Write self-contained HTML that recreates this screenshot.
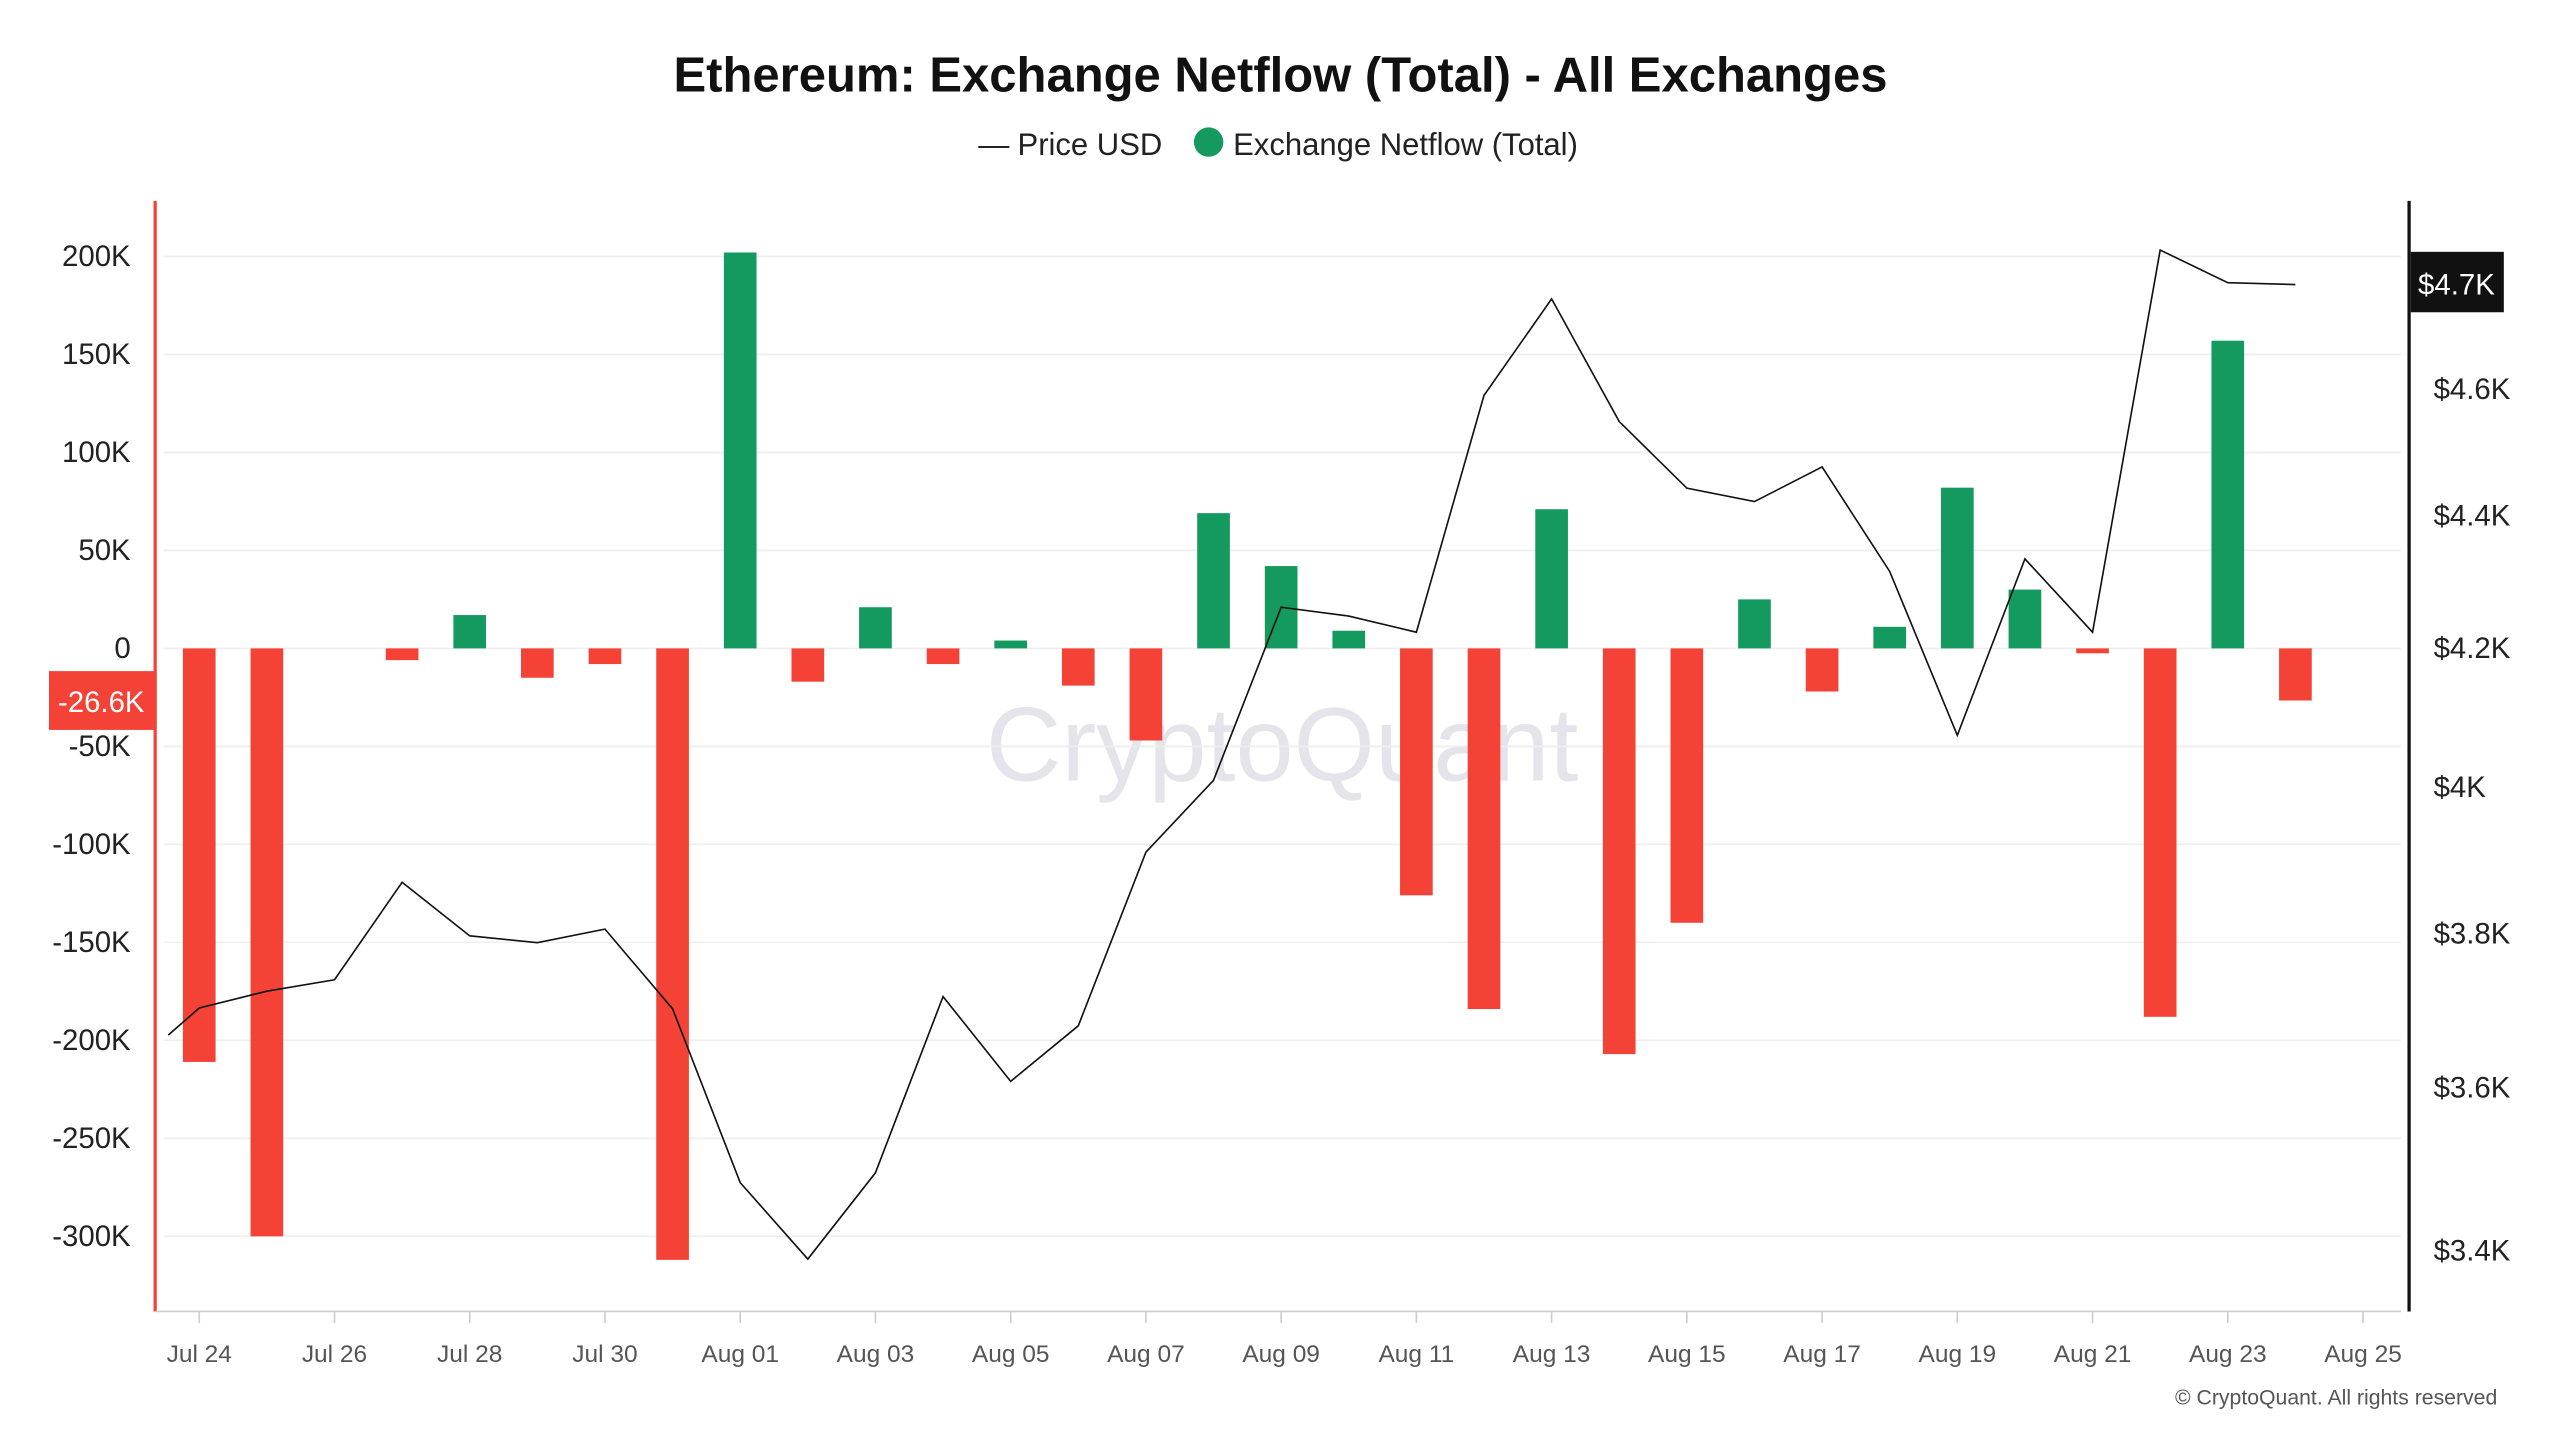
<!DOCTYPE html>
<html><head><meta charset="utf-8">
<style>
html,body{margin:0;padding:0;background:#fff;}
svg{display:block;font-family:"Liberation Sans",sans-serif;}
</style></head>
<body>
<svg id="chart" width="2560" height="1440" viewBox="0 0 1567.4 881.7" preserveAspectRatio="none" xmlns="http://www.w3.org/2000/svg">
<rect width="1600" height="900" fill="#fff"/>
<text x="784" y="56" text-anchor="middle" font-size="30" font-weight="bold" fill="#111">Ethereum: Exchange Netflow (Total) - All Exchanges</text>
<g>
<g><line x1="599" y1="90" x2="618" y2="90" stroke="#222" stroke-width="1.2"/><text x="623" y="95" font-size="19" fill="#222">Price USD</text></g>
<g><circle cx="740" cy="87" r="9" fill="#14995e"/><text x="755" y="95" font-size="19" fill="#222">Exchange Netflow (Total)</text></g>
</g>
<text x="785" y="478" text-anchor="middle" font-size="64" fill="#e4e4ea">CryptoQuant</text>
<g id="grid"></g>
<g id="bars"></g>
<g id="line"></g>
<g id="axes"></g>
<text x="1529" y="860" text-anchor="end" font-size="13" fill="#555">© CryptoQuant. All rights reserved</text>
</svg>
<script>
const dayLabels = ["Jul 24","Jul 26","Jul 28","Jul 30","Aug 01","Aug 03","Aug 05","Aug 07","Aug 09","Aug 11","Aug 13","Aug 15","Aug 17","Aug 19","Aug 21","Aug 23","Aug 25"];
const netflowK = [-211,-300,0,-6,17,-15,-8,-312,202,-17,21,-8,4,-19,-47,69,42,9,-126,-184,71,-207,-140,25,-22,11,82,30,-2.5,-188,157,-26.6];
const priceDays = [-0.46,0,1,2,3,4,5,6,7,8,9,10,11,12,13,14,15,16,17,18,19,20,21,22,23,24,25,26,27,28,29,30,31];
const priceUSD = [3667,3702,3724,3739,3869,3797,3788,3806,3701,3482,3390,3494,3717,3608,3679,3910,4010,4261,4248,4224,4590,4748,4548,4443,4422,4476,4315,4074,4334,4224,4830,4775,4772];
const leftTicks = [200,150,100,50,0,-50,-100,-150,-200,-250,-300];
const leftTickLabels = ["200K","150K","100K","50K","0","-50K","-100K","-150K","-200K","-250K","-300K"];
const rightTicks = [4600,4400,4200,4000,3800,3600,3400];
const rightTickLabels = ["$4.6K","$4.4K","$4.2K","$4K","$3.8K","$3.6K","$3.4K"];
const lastNetflowLabel = "-26.6K";
const lastPriceLabel = "$4.7K";

const NS="http://www.w3.org/2000/svg";
const xDay = d => 122 + d*41.4;
const yL = v => 397 - v*1.2;
const yR = p => 397 - 1745*Math.log(p/4200);
function mk(tag, attrs, parent, text){
  const e=document.createElementNS(NS,tag);
  for(const k in attrs) e.setAttribute(k,attrs[k]);
  if(text!==undefined) e.textContent=text;
  parent.appendChild(e); return e;
}
const grid=document.getElementById('grid'), bars=document.getElementById('bars'), line=document.getElementById('line'), axes=document.getElementById('axes');
leftTicks.forEach((v,i)=>{
  const g=mk('line',{x1:100,x2:1470,y1:yL(v),y2:yL(v),stroke:'#eeeeee','stroke-width':1},grid);
  
  
  const t=mk('text',{x:80,y:yL(v)+6,'text-anchor':'end','font-size':18,fill:'#222'},axes,leftTickLabels[i]);
  
  
});
rightTicks.forEach((p,i)=>{
  const t=mk('text',{x:1490,y:yR(p)+6,'font-size':18,fill:'#222'},axes,rightTickLabels[i]);
  
  
});
netflowK.forEach((v,i)=>{
  if(v===0) return;
  const y0=yL(0), y1=yL(v);
  const r=mk('rect',{x:xDay(i)-10,y:Math.min(y0,y1),width:20,height:Math.max(Math.abs(y1-y0),1),fill:v>0?'#14995e':'#f44336'},bars);
  
  
});
const pts=priceDays.map((d,i)=>xDay(d).toFixed(1)+','+yR(priceUSD[i]).toFixed(1)).join(' ');
const pl=mk('polyline',{points:pts,fill:'none',stroke:'#111','stroke-width':1},line);


let a=mk('line',{x1:95,x2:95,y1:123,y2:803,stroke:'#f44336','stroke-width':2},axes);


a=mk('line',{x1:1475,x2:1475,y1:123,y2:803,stroke:'#111','stroke-width':2},axes);


a=mk('line',{x1:95,x2:1470,y1:803,y2:803,stroke:'#ccc','stroke-width':1},axes);


dayLabels.forEach((l,i)=>{
  const x=xDay(i*2);
  const tk=mk('line',{x1:x,x2:x,y1:803,y2:810,stroke:'#ccc'},axes);
  
  
  const t=mk('text',{x:x,y:834,'text-anchor':'middle','font-size':15,fill:'#555'},axes,l);
  
  
});
const lv=netflowK[netflowK.length-1];
const b1=mk('g',{},axes);


mk('rect',{x:30,y:yL(lv)-18,width:65,height:36,fill:'#f44336'},b1);
mk('text',{x:62,y:yL(lv)+7,'text-anchor':'middle','font-size':18,fill:'#fff'},b1,lastNetflowLabel);
const lp=priceUSD[priceUSD.length-1];
const b2=mk('g',{},axes);


mk('rect',{x:1476,y:yR(lp)-20,width:57,height:37,fill:'#111'},b2);
mk('text',{x:1504,y:yR(lp)+6,'text-anchor':'middle','font-size':18,fill:'#fff'},b2,lastPriceLabel);
</script>
</body></html>
